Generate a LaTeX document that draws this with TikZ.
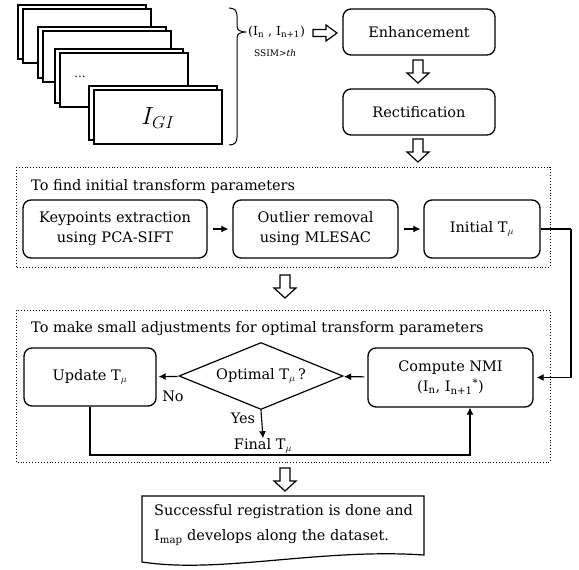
\documentclass[tikz,border=0pt]{standalone}
\usepackage{fontspec}
\setmainfont{DejaVu Serif}
\usetikzlibrary{shapes.geometric,arrows.meta,calc}
\begin{document}
\begin{tikzpicture}[x=1pt,y=-1pt,
    txt/.style={font=\fontsize{14.5}{20}\selectfont, inner sep=0pt},
    box/.style={txt, draw, line width=1.3pt, rounded corners=8pt, align=center},
    frame/.style={draw, line width=1.2pt, fill=white},
    zone/.style={draw, dotted, line width=0.9pt},
    hollow/.style={draw, line width=1.2pt, fill=white},
    link/.style={line width=1.1pt, -{Latex[length=7pt,width=7pt]}},
  ]
  \useasboundingbox (0,0) rectangle (579,570);

  % stack of images
  \foreach \x/\y/\h in {23/9/54, 43/31/51, 60/53/54, 94/90/54} {
    \draw[frame] (\x-5,\y-4) rectangle ++(128,\h);
    \draw[frame] (\x,\y) rectangle ++(128,\h);
  }
  \node[txt, font=\fontsize{12}{14}\selectfont] (dots) at (80,77) {...};
  \node[txt, font=\fontsize{23}{25}\selectfont] (igi) at (158,118) {$I_{GI}$};
  \draw[line width=1pt] (229,8) .. controls (235,8) and (237,11) .. (237,16) -- (237,26)
    .. controls (237,30) and (240,32) .. (246,32) .. controls (240,32) and (237,34) .. (237,38)
    -- (237,137) .. controls (237,142) and (235,145) .. (229,145);
  \node[txt, anchor=west, font=\fontsize{12.5}{15}\selectfont] (pair) at (248,32)
    {(I\textsubscript{n} , I\textsubscript{n+1})};
  \node[txt, anchor=west, font=\fontsize{9}{11}\selectfont] (ssim) at (254,53) {SSIM>\textit{th}};

  % preprocessing
  \node[box, minimum width=152, minimum height=46] (enh) at (419,32) {Enhancement};
  \node[box, minimum width=152, minimum height=46] (rect) at (419,112) {Rectification};
  \draw[hollow] (313,29.5) -- (326,29.5) -- (326,25) -- (337,33) -- (326,41) -- (326,36.5) -- (313,36.5) -- cycle;
  \foreach \ax/\ay in {418/60, 418/139, 285/275, 285/468}
    \draw[hollow, shift={(\ax,\ay)}] (-5,0) -- (5,0) -- (5,13) -- (11,13) -- (0,23) -- (-11,13) -- (-5,13) -- cycle;

  % initial parameters
  \draw[zone] (16,167) rectangle (550,267);
  \node[txt, anchor=west] (t1) at (31,186) {To find initial transform parameters};
  \node[box, minimum width=184, minimum height=58] (kp) at (115,229) {Keypoints extraction\\using PCA-SIFT};
  \node[box, minimum width=165, minimum height=58] (out) at (315.5,229) {Outlier removal\\using MLESAC};
  \node[box, minimum width=116, minimum height=58] (init) at (482,229) {Initial T\textsubscript{$\mu$}};
  \draw[link, shorten <=5pt, shorten >=4pt] (kp) -- (out);
  \draw[link, shorten <=5pt, shorten >=3pt] (out) -- (init);

  % small adjustments
  \draw[zone] (16,310) rectangle (550,462);
  \node[txt, anchor=west] (t2) at (31,329) {To make small adjustments for optimal transform parameters};
  \node[box, minimum width=132, minimum height=58] (upd) at (90,377) {Update T\textsubscript{$\mu$}};
  \node[txt, draw, diamond, aspect=2.45, line width=1.2pt, minimum width=164, minimum height=67]
    (opt) at (261,376) {Optimal T\textsubscript{$\mu$}\,?};
  \node[box, minimum width=165, minimum height=59] (nmi) at (450.5,377.5)
    {Compute NMI\\(I\textsubscript{n}, I\textsubscript{n+1}\textsuperscript{*})};
  \node[txt] (final) at (263,446) {Final T\textsubscript{$\mu$}};
  \coordinate (side) at (571,229);
  \coordinate (loop) at (470,455);
  \draw[line width=1.1pt] (init.east) -- (side);
  \draw[link, shorten >=3pt] (side) |- (nmi.east);
  \draw[link, shorten <=3pt, shorten >=2pt] (nmi) -- (opt);
  \draw[link, shorten <=2pt, shorten >=2pt] (opt) -- (upd);
  \draw[link] (opt.south) -- (final.north);
  \draw[link] (upd.south) |- (loop) -- (loop |- nmi.south);
  \node[txt] (no) at (173,396) {No};
  \node[txt] (yes) at (243,418) {Yes};

  % result
  \draw[line width=1.2pt] (142,496) -- (424,496) -- (424,555)
    .. controls (320,548) and (220,574) .. (142,562) -- cycle;
  \node[txt, anchor=west, align=left, font=\fontsize{14.5}{25}\selectfont] (done) at (154,525)
    {Successful registration is done and\\I\textsubscript{map} develops along the dataset.};
\end{tikzpicture}
\end{document}
